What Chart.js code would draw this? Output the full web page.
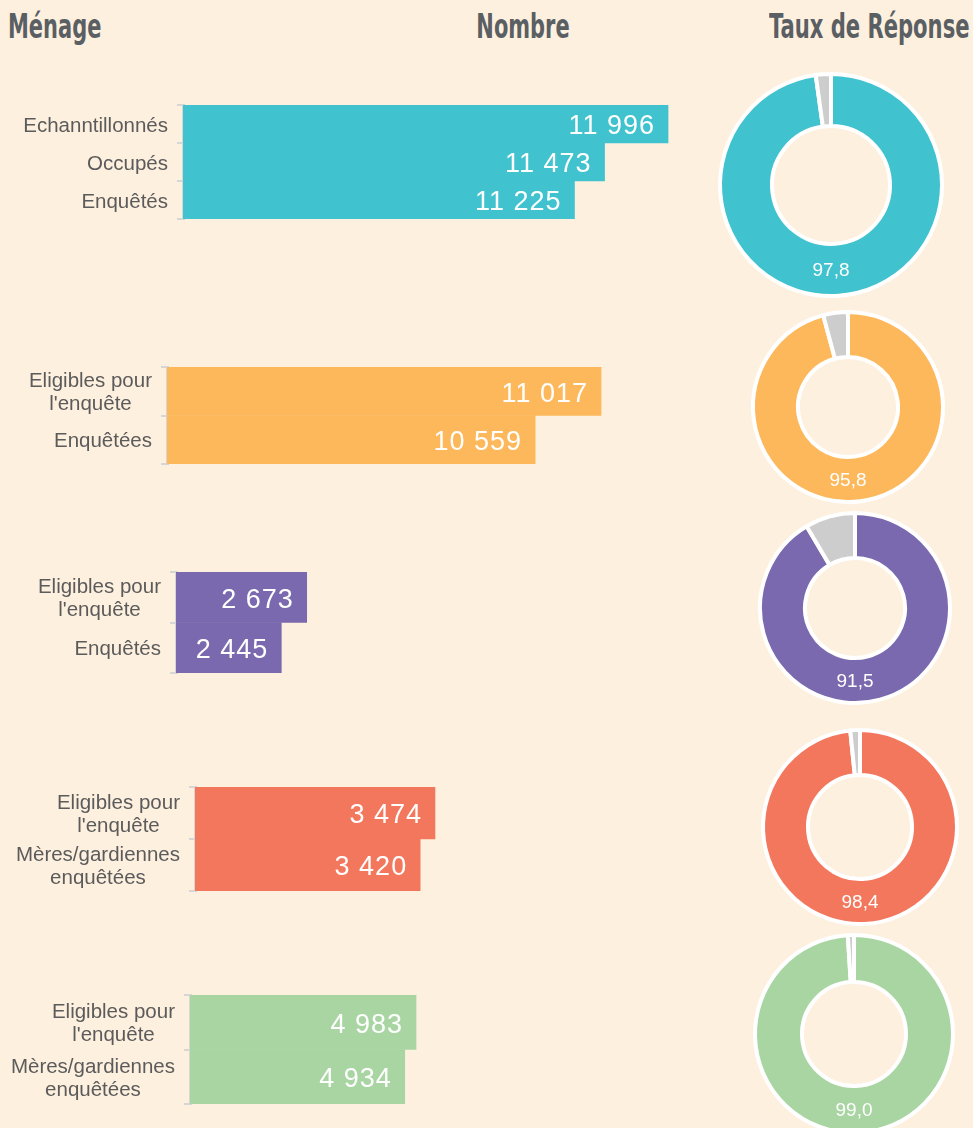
<!DOCTYPE html>
<html lang="fr">
<head>
<meta charset="utf-8">
<title>Taux de réponse</title>
<script src="https://cdn.jsdelivr.net/npm/chart.js@4.4.0/dist/chart.umd.min.js"></script>
<style>
  html, body { margin: 0; padding: 0; background: #FEF0DF; }
  #page { position: relative; width: 973px; height: 1128px; overflow: hidden; }
  .head {
    position: absolute; top: 9px; line-height: 1;
    font-family: "DejaVu Sans Condensed", "Liberation Sans Narrow", sans-serif;
    font-weight: bold; font-size: 34px; color: #5a5f63; white-space: nowrap;
  }
  .box { position: absolute; }
</style>
</head>
<body>
<div id="page">
  <div class="head" style="left:8px; transform:scaleX(0.685); transform-origin:left top">Ménage</div>
  <div class="head" style="left:523px; transform:translateX(-50%) scaleX(0.685); transform-origin:center top">Nombre</div>
  <div class="head" style="right:3px; transform:scaleX(0.69); transform-origin:right top">Taux de Réponse</div>
</div>

<script>
// ── Data ──────────────────────────────────────
const labelsMenages = ['Echanntillonnés', 'Occupés', 'Enquêtés'];
const valuesMenages = [11996, 11473, 11225];
const rateMenages   = 97.8;

const labelsFemmes = [['Eligibles pour', "l'enquête"], 'Enquêtées'];
const valuesFemmes = [11017, 10559];
const rateFemmes   = 95.8;

const labelsHommes = [['Eligibles pour', "l'enquête"], 'Enquêtés'];
const valuesHommes = [2673, 2445];
const rateHommes   = 91.5;

const labelsMeres1 = [['Eligibles pour', "l'enquête"], ['Mères/gardiennes', 'enquêtées']];
const valuesMeres1 = [3474, 3420];
const rateMeres1   = 98.4;

const labelsMeres2 = [['Eligibles pour', "l'enquête"], ['Mères/gardiennes', 'enquêtées']];
const valuesMeres2 = [4983, 4934];
const rateMeres2   = 99.0;

const colors = ['#40C2CF', '#FDB85C', '#7A69AE', '#F3775D', '#A9D5A3'];
const restColor = '#CDCDCD';

// ── Layout (pixels) ───────────────────────────
const groups = [
  { labels: labelsMenages, values: valuesMenages, rate: rateMenages, color: colors[0],
    bar:  { top: 105, bottom: 219, left: 183, min: 8000, max: 12424 },
    ring: { cx: 831, cy: 185, r: 111, inner: 59 } },
  { labels: labelsFemmes, values: valuesFemmes, rate: rateFemmes, color: colors[1],
    bar:  { top: 367, bottom: 464, left: 167, min: 8000, max: 11844 },
    ring: { cx: 848, cy: 407, r: 95, inner: 50 } },
  { labels: labelsHommes, values: valuesHommes, rate: rateHommes, color: colors[2],
    bar:  { top: 572, bottom: 673, left: 176, min: 1500, max: 6382 },
    ring: { cx: 855, cy: 608, r: 95, inner: 50 } },
  { labels: labelsMeres1, values: valuesMeres1, rate: rateMeres1, color: colors[3],
    bar:  { top: 787, bottom: 891, left: 195, min: 2600, max: 4512 },
    ring: { cx: 860, cy: 827, r: 97, inner: 52 } },
  { labels: labelsMeres2, values: valuesMeres2, rate: rateMeres2, color: colors[4],
    bar:  { top: 995, bottom: 1104, left: 190, min: 4000, max: 6305 },
    ring: { cx: 854, cy: 1034, r: 99, inner: 52 } },
];

const BAR_W = 720;
const TICK = 6;
const PAD = 3;
const FONT = '"Liberation Sans", Arial, sans-serif';

function fmtNum(v) {
  return String(v).replace(/\B(?=(\d{3})+(?!\d))/g, ' ');
}

// ── Plugins ───────────────────────────────────
const sideLabels = {
  id: 'sideLabels',
  afterDraw(chart) {
    const y = chart.scales.y;
    const ctx = chart.ctx;
    const right = chart.chartArea.left - TICK - 9;
    ctx.save();
    ctx.font = '20.5px ' + FONT;
    ctx.fillStyle = '#5b5b5b';
    ctx.textAlign = 'center';
    ctx.textBaseline = 'middle';
    chart.data.labels.forEach((lab, i) => {
      const lines = Array.isArray(lab) ? lab : [lab];
      const w = Math.max(...lines.map(l => ctx.measureText(l).width));
      const cy = y.getPixelForValue(i) + 2;
      lines.forEach((l, j) => {
        ctx.fillText(l, right - w / 2, cy + (j - (lines.length - 1) / 2) * 23);
      });
    });
    ctx.restore();
  }
};

const barValues = {
  id: 'barValues',
  afterDatasetsDraw(chart) {
    const ctx = chart.ctx;
    const meta = chart.getDatasetMeta(0);
    const data = chart.data.datasets[0].data;
    ctx.save();
    ctx.font = '27px ' + FONT;
    ctx.letterSpacing = '1px';
    ctx.fillStyle = '#ffffff';
    ctx.textAlign = 'right';
    ctx.textBaseline = 'middle';
    meta.data.forEach((bar, i) => {
      ctx.fillText(fmtNum(data[i]), bar.x - 13, bar.y + 3);
    });
    ctx.restore();
  }
};

const ringLabel = {
  id: 'ringLabel',
  afterDatasetsDraw(chart) {
    const ctx = chart.ctx;
    const arc = chart.getDatasetMeta(0).data[0];
    const mid = (arc.innerRadius + arc.outerRadius) / 2;
    ctx.save();
    ctx.font = '19px ' + FONT;
    ctx.fillStyle = '#ffffff';
    ctx.textAlign = 'center';
    ctx.textBaseline = 'middle';
    ctx.fillText(chart.data.datasets[0].data[0].toFixed(1).replace('.', ','), arc.x, arc.y + mid + 1);
    ctx.restore();
  }
};

// ── Build ─────────────────────────────────────
const page = document.getElementById('page');

function addCanvas(left, top, w, h) {
  const box = document.createElement('div');
  box.className = 'box';
  box.style.left = left + 'px';
  box.style.top = top + 'px';
  box.style.width = w + 'px';
  box.style.height = h + 'px';
  const cv = document.createElement('canvas');
  box.appendChild(cv);
  page.appendChild(box);
  return cv;
}

groups.forEach(g => {
  const b = g.bar;
  const barCanvas = addCanvas(0, b.top - PAD, BAR_W, b.bottom - b.top + PAD * 2);
  new Chart(barCanvas, {
    type: 'bar',
    data: {
      labels: g.labels,
      datasets: [{
        data: g.values,
        backgroundColor: g.color,
        borderWidth: 0,
        barPercentage: 1,
        categoryPercentage: 1,
      }]
    },
    options: {
      indexAxis: 'y',
      responsive: true,
      maintainAspectRatio: false,
      animation: false,
      events: [],
      layout: { padding: { left: b.left - TICK, top: PAD, bottom: PAD, right: 0 } },
      plugins: { legend: { display: false }, tooltip: { enabled: false } },
      scales: {
        x: { display: false, min: b.min, max: b.max },
        y: {
          grid: { drawOnChartArea: false, tickLength: TICK, color: '#d6d6d6', lineWidth: 2 },
          border: { color: '#d6d6d6', width: 3 },
          ticks: { display: false },
        }
      }
    },
    plugins: [sideLabels, barValues]
  });

  const r = g.ring;
  const size = r.r * 2 + 12;
  const ringCanvas = addCanvas(r.cx - size / 2, r.cy - size / 2, size, size);
  new Chart(ringCanvas, {
    type: 'doughnut',
    data: {
      labels: ['Taux', 'Reste'],
      datasets: [{
        data: [g.rate, +(100 - g.rate).toFixed(1)],
        backgroundColor: [g.color, restColor],
        borderColor: '#ffffff',
        borderWidth: 4,
      }]
    },
    options: {
      responsive: true,
      maintainAspectRatio: false,
      animation: false,
      events: [],
      radius: r.r,
      cutout: (r.inner / r.r * 100) + '%',
      plugins: { legend: { display: false }, tooltip: { enabled: false } },
    },
    plugins: [ringLabel]
  });
});
</script>
</body>
</html>
